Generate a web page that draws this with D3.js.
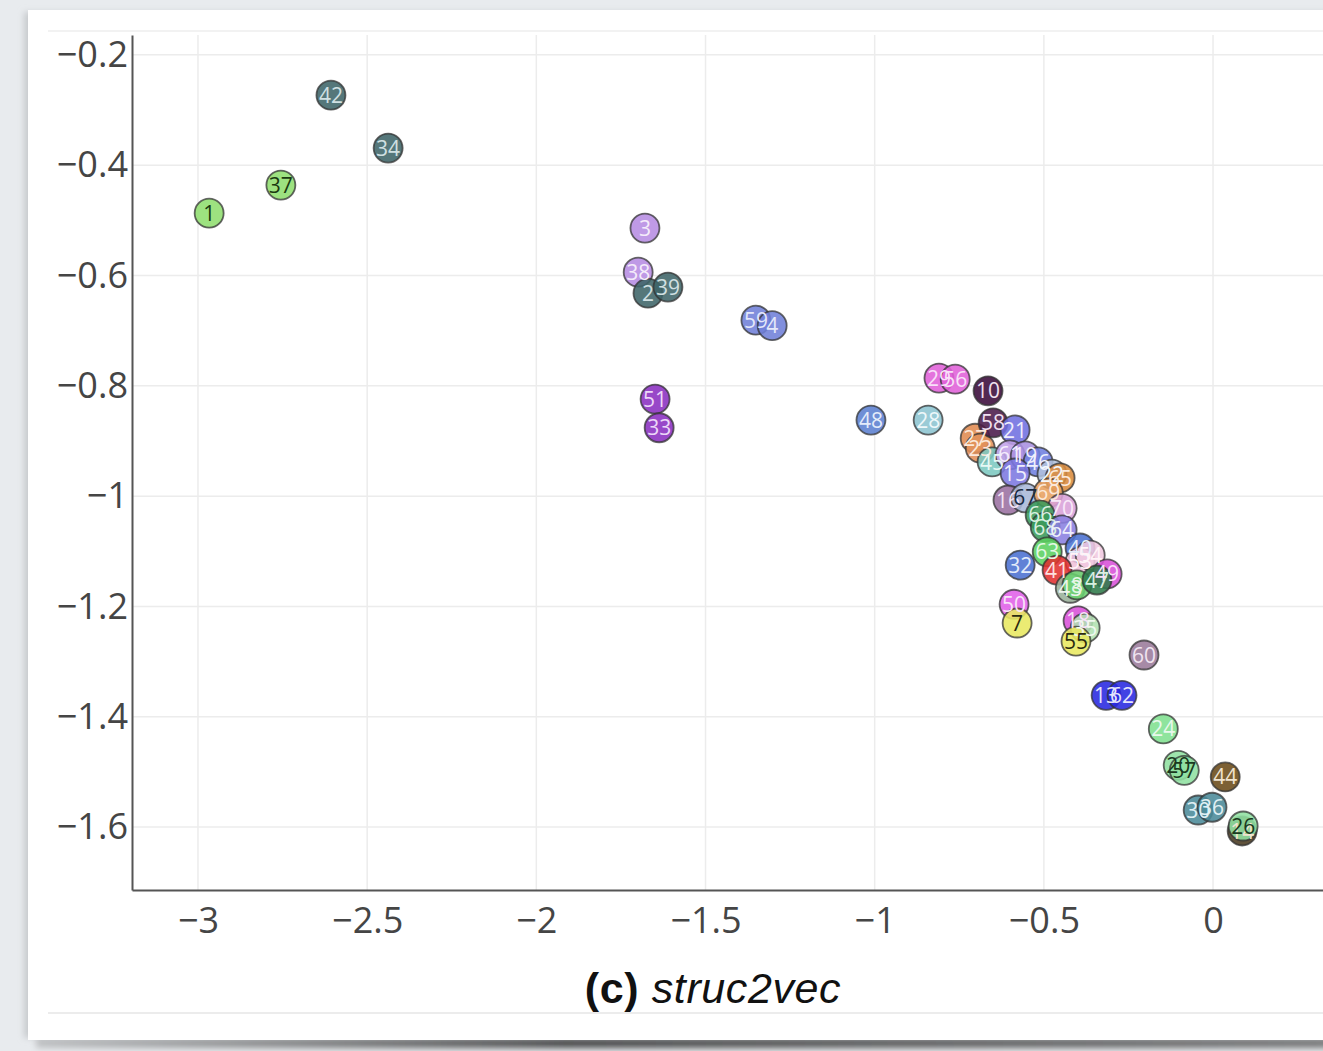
<!DOCTYPE html>
<html>
<head>
<meta charset="utf-8">
<script src="https://cdn.jsdelivr.net/npm/d3@7"></script>
<style>
  html, body { margin: 0; padding: 0; background: #e8ebee; }
  svg { display: block; }
</style>
</head>
<body>
<svg id="chart"></svg>
<script>
// node labels and their 2-D struc2vec coordinates
const labels = ["1","37","42","34","3","38","2","39","59","4","51","33","48","28","29","56","10",
  "27","23","58","21","45","61","19","46","15","22","65","16","67","69","70","66","68","64","40",
  "63","32","53","54","41","49","43","8","47","50","7","18","35","55","60","13","62","24","20","57",
  "44","30","36","14","26"];
const xs = [-2.967,-2.755,-2.607,-2.438,-1.679,-1.699,-1.670,-1.611,-1.351,-1.303,-1.649,-1.637,-1.011,-0.842,-0.810,-0.762,-0.665,
  -0.703,-0.688,-0.650,-0.585,-0.653,-0.600,-0.555,-0.517,-0.585,-0.476,-0.452,-0.606,-0.555,-0.487,-0.446,-0.511,-0.496,-0.446,-0.393,
  -0.490,-0.570,-0.393,-0.363,-0.461,-0.313,-0.422,-0.402,-0.343,-0.588,-0.579,-0.399,-0.378,-0.405,-0.204,-0.316,-0.269,-0.147,-0.103,-0.085,
  0.036,-0.044,-0.003,0.086,0.089];
const ys = [-0.487,-0.436,-0.273,-0.369,-0.514,-0.594,-0.632,-0.621,-0.681,-0.691,-0.824,-0.876,-0.862,-0.862,-0.786,-0.788,-0.809,
  -0.895,-0.913,-0.867,-0.880,-0.938,-0.925,-0.927,-0.938,-0.958,-0.960,-0.967,-1.007,-1.003,-0.994,-1.022,-1.034,-1.056,-1.061,-1.094,
  -1.101,-1.125,-1.119,-1.107,-1.134,-1.141,-1.167,-1.161,-1.152,-1.196,-1.230,-1.226,-1.239,-1.263,-1.288,-1.361,-1.361,-1.422,-1.488,-1.497,
  -1.509,-1.569,-1.564,-1.607,-1.598];
const fills = ["#8fde6e","#8fde6e","#3e6468","#3e6468","#b68ce2","#b68ce2","#3e6468","#3e6468","#6f80d8","#6f80d8","#8a2fc0","#8a2fc0","#5b7fd0","#8cc4d0","#e060d8","#e060d8","#3a0a3a",
  "#e08a50","#e0905a","#4a1a4a","#7070e0","#7cc8c0","#c0a0e8","#a890e0","#7080e0","#7c78e0","#b0c0dc","#d88a3c","#9a70a0","#a8b8d8","#e8a060","#d8a0d8","#3a9a5a","#3a9a5a","#8a80e0","#4a70d0",
  "#5ad060","#4a70d0","#f0c0d8","#f0c8e0","#e03030","#d850d8","#9ab09a","#6ad070","#2f7a4a","#e060e8","#e8e860","#d850d8","#b0e0b0","#e8e860","#9a7a9a","#2828e0","#2828e0","#80e090","#90e0a0","#90e0a0",
  "#6a4a18","#4a8a98","#4a8a98","#4a3a20","#90e0a0"];
const textColors = ["#1a3a10","#1a3a10","#d0e0e2","#d0e0e2","#f4ecfa","#f4ecfa","#d0e0e2","#d0e0e2","#e4e8fa","#e4e8fa","#ecd8f8","#ecd8f8","#e4ecfa","#eef8fa","#f8e0f8","#f8e0f8","#f0e0f0",
  "#fbe8da","#fbe8da","#f0e0f0","#eeeefc","#e8f8f4","#f4ecfc","#f0ecfc","#eef0fc","#eeeefc","#f4f8fc","#fbe8da","#f4e4f4","#1a2a40","#fbe8da","#f8e8f8","#d8f0e0","#d8f0e0","#eeeefc","#e4ecfa",
  "#e4f8e4","#e4ecfa","#fff4f8","#fff4f8","#fde0e0","#f8e0f8","#eef4ee","#e4f8e4","#d8f0e0","#f8e4f8","#2a2a10","#f8e0f8","#f0f8f0","#2a2a10","#f0e4f0","#e4e4fc","#e4e4fc","#e8f8ec","#1a3a20","#1a3a20",
  "#f0e4d0","#e0f0f4","#e0f0f4","#f0e4d0","#1a3a20"];

const xTicks = [-3, -2.5, -2, -1.5, -1, -0.5, 0];
const xTickLabels = ["−3", "−2.5", "−2", "−1.5", "−1", "−0.5", "0"];
const yTicks = [-0.2, -0.4, -0.6, -0.8, -1, -1.2, -1.4, -1.6];
const yTickLabels = ["−0.2", "−0.4", "−0.6", "−0.8", "−1", "−1.2", "−1.4", "−1.6"];

const W = 1323, H = 1051;
const plot = { left: 132, right: 1323, top: 35, bottom: 890 };

const svg = d3.select('#chart').attr('width', W).attr('height', H);
const defs = svg.append('defs');

// soft shadow under the paper card
const shade = defs.append('linearGradient').attr('id', 'shade').attr('x1', 0).attr('x2', 1);
shade.append('stop').attr('offset', '0%').attr('stop-color', '#bfc1c3');
shade.append('stop').attr('offset', '40%').attr('stop-color', '#4a4b4c');
shade.append('stop').attr('offset', '100%').attr('stop-color', '#7a7b7c');
const blur = defs.append('filter').attr('id', 'blur').attr('x', '-5%').attr('y', '-20%').attr('width', '110%').attr('height', '140%');
blur.append('feGaussianBlur').attr('stdDeviation', 3);

svg.append('rect').attr('width', W).attr('height', H).attr('fill', '#e8ebee');
svg.append('rect').attr('x', 36).attr('y', 1036).attr('width', W).attr('height', 12)
  .attr('fill', 'url(#shade)').attr('filter', 'url(#blur)');
svg.append('rect').attr('x', 24).attr('y', 12).attr('width', W).attr('height', 1026)
  .attr('fill', '#c8cbce').attr('filter', 'url(#blur)');
svg.append('rect').attr('x', 28).attr('y', 10).attr('width', W).attr('height', 1030).attr('fill', '#ffffff');

// faint card rules
svg.append('line').attr('x1', 48).attr('x2', W).attr('y1', 31).attr('y2', 31)
  .attr('stroke', '#eeeeee').attr('stroke-width', 1.5);
svg.append('line').attr('x1', 48).attr('x2', W).attr('y1', 1013).attr('y2', 1013)
  .attr('stroke', '#e6e6e6').attr('stroke-width', 1.5);

const x = d3.scaleLinear().domain([-3.195, 0.325]).range([plot.left, plot.right]);
const y = d3.scaleLinear().domain([-1.714, -0.164]).range([plot.bottom, plot.top]);

// grid
const grid = svg.append('g').attr('stroke', '#ececec').attr('stroke-width', 1.5);
grid.selectAll('.vx').data(xTicks).enter().append('line')
  .attr('x1', d => x(d)).attr('x2', d => x(d)).attr('y1', plot.top).attr('y2', plot.bottom);
grid.selectAll('.hy').data(yTicks).enter().append('line')
  .attr('x1', plot.left).attr('x2', plot.right).attr('y1', d => y(d)).attr('y2', d => y(d));

// axes
const xAxis = d3.axisBottom(x).tickValues(xTicks).tickSize(0).tickPadding(17)
  .tickFormat((d, i) => xTickLabels[i]);
const yAxis = d3.axisLeft(y).tickValues(yTicks).tickSize(0).tickPadding(4)
  .tickFormat((d, i) => yTickLabels[i]);

const gx = svg.append('g').attr('transform', `translate(0,${plot.bottom})`).call(xAxis);
const gy = svg.append('g').attr('transform', `translate(${plot.left},0)`).call(yAxis);
[gx, gy].forEach(g => {
  g.select('.domain').attr('stroke', '#555').attr('stroke-width', 2);
  g.selectAll('text').attr('fill', '#454545').attr('font-family', '"Open Sans", sans-serif').attr('font-size', 36);
});
gx.selectAll('text').attr('dy', '0.71em');

// points: all markers first, then all labels on top (as plotly layers them)
const nodes = labels.map((l, i) => ({ label: l, x: xs[i], y: ys[i], fill: fills[i], text: textColors[i] }));
svg.append('g').selectAll('circle').data(nodes).enter().append('circle')
  .attr('cx', d => x(d.x)).attr('cy', d => y(d.y)).attr('r', 14.5)
  .attr('fill', d => d.fill).attr('fill-opacity', 0.88)
  .attr('stroke', '#333').attr('stroke-opacity', 0.75).attr('stroke-width', 1.8);
svg.append('g').selectAll('text').data(nodes).enter().append('text')
  .attr('x', d => x(d.x)).attr('y', d => y(d.y))
  .text(d => d.label)
  .attr('text-anchor', 'middle').attr('dy', '0.36em')
  .attr('font-family', '"Open Sans", sans-serif').attr('font-size', 21)
  .attr('fill', d => d.text);

// caption
const cap = svg.append('text').attr('x', 713).attr('y', 1003).attr('text-anchor', 'middle')
  .attr('font-family', '"Liberation Sans", Arial, sans-serif').attr('font-size', 43)
  .attr('letter-spacing', 0.6).attr('fill', '#111');
cap.append('tspan').attr('font-weight', 'bold').text('(c) ');
cap.append('tspan').attr('font-style', 'italic').text('struc2vec');
</script>
</body>
</html>
